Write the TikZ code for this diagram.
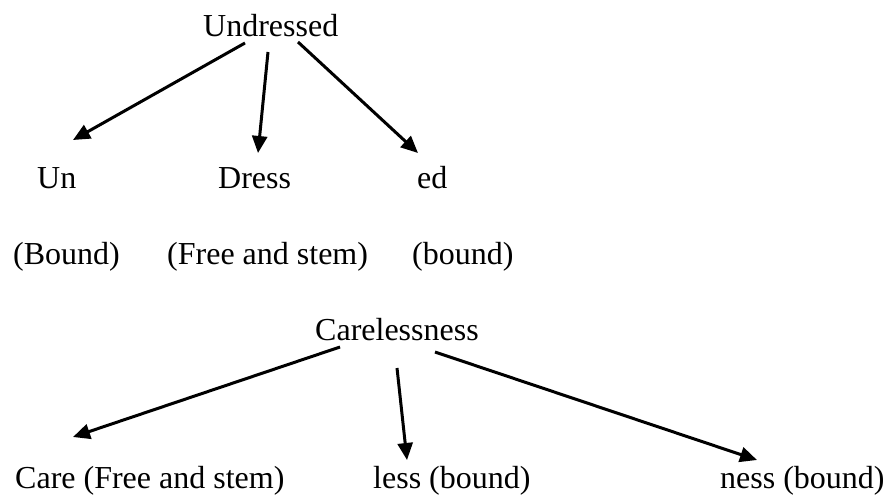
\documentclass[tikz,border=0pt]{standalone}
\usepackage{fontspec}
\setmainfont{Liberation Serif}
\usetikzlibrary{arrows.meta}
\begin{document}
\begin{tikzpicture}[x=1pt,y=-1pt,
  lbl/.style={anchor=base west,inner sep=0pt,font=\fontsize{32}{38}\selectfont},
  arr/.style={line width=3pt,-{Triangle[length=17pt,width=15pt]}}]
\useasboundingbox (0,0) rectangle (885,495);
\node[lbl] (und) at (203,37) {Undressed};
\node[lbl] (un) at (37,188) {Un};
\node[lbl] (dress) at (218,188) {Dress};
\node[lbl] (ed) at (417,188) {ed};
\node[lbl] (unb) at (13,264) {(Bound)};
\node[lbl] (dressb) at (167,264) {(Free and stem)};
\node[lbl] (edb) at (412,264) {(bound)};
\node[lbl] (care) at (315,340) {Carelessness};
\node[lbl] (c1) at (15,488) {Care (Free and stem)};
\node[lbl] (c2) at (373,488) {less (bound)};
\node[lbl] (c3) at (720,488) {ness (bound)};
% connector end points
\coordinate (a1s) at (245,43);  \coordinate (a1e) at (73,140);
\coordinate (a2s) at (268,52);  \coordinate (a2e) at (258,153);
\coordinate (a3s) at (298,42);  \coordinate (a3e) at (418,153);
\coordinate (b1s) at (340,347); \coordinate (b1e) at (73,437);
\coordinate (b2s) at (397,368); \coordinate (b2e) at (407,460);
\coordinate (b3s) at (435,352); \coordinate (b3e) at (757,460);
\draw[arr] (a1s) -- (a1e);
\draw[arr] (a2s) -- (a2e);
\draw[arr] (a3s) -- (a3e);
\draw[arr] (b1s) -- (b1e);
\draw[arr] (b2s) -- (b2e);
\draw[arr] (b3s) -- (b3e);
\end{tikzpicture}
\end{document}
